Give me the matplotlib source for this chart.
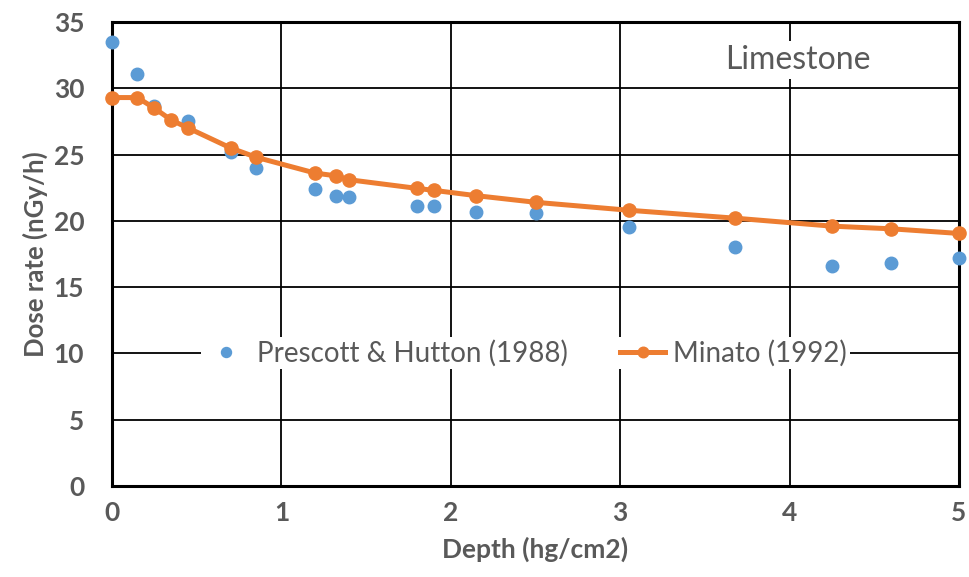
import matplotlib
matplotlib.use("Agg")
import matplotlib.pyplot as plt

# ----- data -----
depth_prescott = [0.0, 0.15, 0.25, 0.45, 0.70, 0.85, 1.20, 1.32, 1.40, 1.80, 1.90,
                  2.15, 2.50, 3.05, 3.68, 4.25, 4.60, 5.00]
dose_prescott = [33.5, 31.1, 28.7, 27.5, 25.2, 24.0, 22.4, 21.9, 21.8, 21.1, 21.1,
                 20.7, 20.6, 19.5, 18.05, 16.6, 16.8, 17.2]

depth_minato = [0.0, 0.15, 0.25, 0.35, 0.45, 0.70, 0.85, 1.20, 1.32, 1.40, 1.80, 1.90,
                2.15, 2.50, 3.05, 3.68, 4.25, 4.60, 5.00]
dose_minato = [29.3, 29.3, 28.5, 27.6, 27.0, 25.5, 24.8, 23.6, 23.4, 23.1, 22.45, 22.3,
               21.9, 21.4, 20.8, 20.2, 19.6, 19.4, 19.05]

x_ticks = [0, 1, 2, 3, 4, 5]
y_ticks = [0, 5, 10, 15, 20, 25, 30, 35]

BLUE = "#5B9BD5"
ORANGE = "#ED7D31"
GRAY = "#595959"

plt.rcParams['font.family'] = ['Lato', 'DejaVu Sans']

fig = plt.figure(figsize=(9.69, 5.77), dpi=100)
ax = fig.add_axes([0.1156, 0.1577, 0.8741, 0.8042])

ax.plot(depth_prescott, dose_prescott, linestyle='none', marker='o', ms=9,
        color=BLUE, label="Prescott & Hutton (1988)", zorder=3, clip_on=False)
ax.plot(depth_minato, dose_minato, '-o', lw=3.6, ms=9.5, color=ORANGE,
        label="Minato (1992)", zorder=4, clip_on=False)

ax.set_xlim(0, 5)
ax.set_ylim(0, 35)
ax.set_xticks(x_ticks)
ax.set_yticks(y_ticks)
ax.grid(True, color='black', lw=1.3)
ax.set_axisbelow(True)
for s in ax.spines.values():
    s.set_color('black')
    s.set_linewidth(2.2)
ax.tick_params(length=0)
ax.tick_params(axis='x', pad=11)
ax.tick_params(axis='y', pad=20)
for lab in ax.get_xticklabels() + ax.get_yticklabels():
    lab.set_fontsize(19)
    lab.set_fontweight('bold')
    lab.set_color(GRAY)

ax.set_xlabel("Depth (hg/cm2)", fontsize=19, fontweight='bold', color=GRAY, labelpad=8)
ax.set_ylabel("Dose rate (nGy/h)", fontsize=18.5, fontweight='bold', color=GRAY, labelpad=4)

ax.text(0.81, 0.918, "Limestone", transform=ax.transAxes, ha='center', va='center',
        fontsize=23, color=GRAY, zorder=5,
        bbox=dict(facecolor='white', edgecolor='none', pad=3))

leg = ax.legend(loc='center', bbox_to_anchor=(0.488, 0.287), ncol=2, frameon=True,
                fontsize=20, handlelength=1.6, columnspacing=1.9, handletextpad=0.3,
                borderpad=0.1, borderaxespad=0, markerscale=0.8)
leg.get_frame().set_facecolor('white')
leg.get_frame().set_edgecolor('none')
leg.get_frame().set_alpha(1)
leg.set_zorder(6)
for t in leg.get_texts():
    t.set_color(GRAY)

fig.savefig("out.png", dpi=100)
